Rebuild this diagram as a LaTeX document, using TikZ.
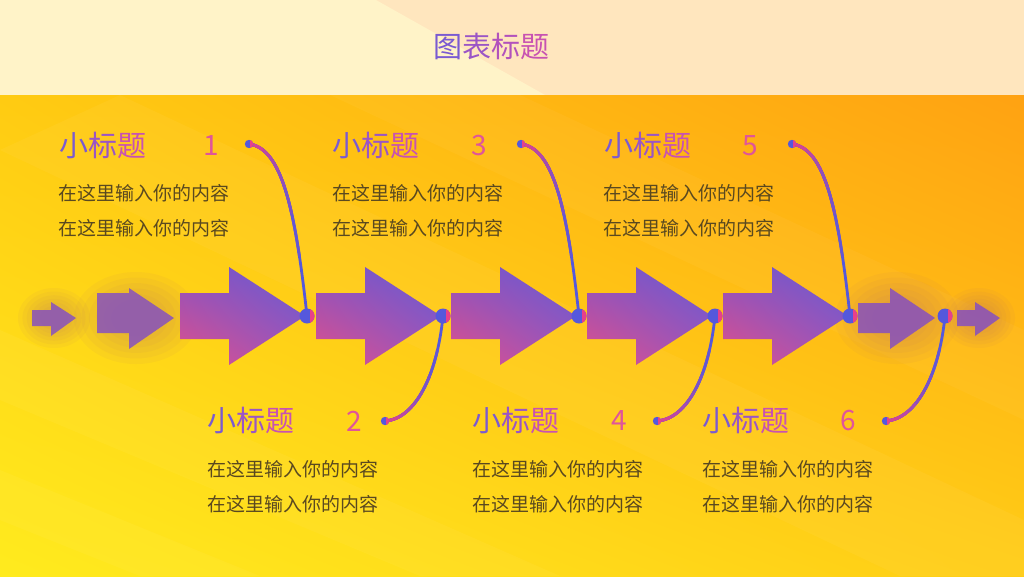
\documentclass[tikz,border=0pt]{standalone}
\usepackage{fontspec}
\setmainfont{Noto Sans CJK SC}
\usetikzlibrary{fadings,shadings,calc}
\definecolor{topL}{HTML}{FFF3C8}
\definecolor{topR}{HTML}{FFE6BE}
\definecolor{gA}{HTML}{7A5AD2}
\definecolor{gB}{HTML}{9A55C6}
\definecolor{gC}{HTML}{B252BC}
\definecolor{gD}{HTML}{C852B2}
\definecolor{numc}{HTML}{E0559A}
\definecolor{bodyc}{HTML}{5A4920}
\definecolor{dotblue}{HTML}{5558DC}
\definecolor{dotpink}{HTML}{E8408A}
\definecolor{glowc}{HTML}{B06A70}
\definecolor{fadec}{HTML}{7E48CC}
\definecolor{arUL}{HTML}{8A52C0}
\definecolor{arUR}{HTML}{655CD4}
\definecolor{arLL}{HTML}{E2508A}
\definecolor{arLR}{HTML}{A053B8}
\definecolor{bgUL}{HTML}{FFCB12}
\definecolor{bgUR}{HTML}{FFA212}
\definecolor{bgLL}{HTML}{FFEB1E}
\definecolor{bgLR}{HTML}{FFCD16}
\tikzset{
  subtitle/.style={anchor=west,font=\fontsize{29}{32}\selectfont,inner sep=0pt},
  numlabel/.style={anchor=center,font=\fontsize{28}{30}\selectfont,text=numc,inner sep=0pt},
  bodytext/.style={anchor=west,font=\fontsize{19}{21}\selectfont,text=bodyc,inner sep=0pt},
  connector/.style={line width=2.8pt,line cap=round},
  arrowshade/.style={upper left=arUL,upper right=arUR,lower left=arLL,lower right=arLR},
  fadearrow/.style={fill=fadec,fill opacity=0.78},
}
\newcommand\sub{\textcolor{gA}{小}\textcolor{gB}{标}\textcolor{gD}{题}}
\newcommand\bigarr[1]{%
  \shade[arrowshade] (#1,293) -- (#1+49,293) -- (#1+49,267) -- (#1+125,316)
     -- (#1+49,365) -- (#1+49,339) -- (#1,339) -- cycle;}
\newcommand\jdot[2]{%
  \begin{scope}
    \clip (#1) circle (#2);
    \fill[dotblue] ($(#1)+(-10,-10)$) rectangle ($(#1)+(10,10)$);
    \fill[dotpink] ($(#1)+(0.35*#2,-10)$) rectangle ($(#1)+(10,10)$);
  \end{scope}}
% gradient curve: #1 = pink end, #2,#3 controls, #4 = blue end
\newcommand\gcurve[4]{%
  \foreach \t/\p in {1/0,0.8/10,0.62/25,0.48/40,0.36/55,0.25/70,0.15/85}{%
    \path ($(#1)!\t!(#2)$) coordinate (qA) ($(#2)!\t!(#3)$) coordinate (qB) ($(#3)!\t!(#4)$) coordinate (qC);
    \path ($(qA)!\t!(qB)$) coordinate (qD) ($(qB)!\t!(qC)$) coordinate (qE);
    \path ($(qD)!\t!(qE)$) coordinate (qF);
    \draw[connector,draw=dotpink!\p!dotblue] (#1) .. controls (qA) and (qD) .. (qF);
  }}
\newcommand\glow[3]{% center, rx, ry
  \foreach \k in {1,0.88,0.76,0.64,0.52,0.4}{%
    \fill[glowc,opacity=0.06] (#1) ellipse ({#2*\k} and {#3*\k});}}
\begin{document}
\begin{tikzpicture}[x=1pt,y=-1pt]
\useasboundingbox (0,0) rectangle (1024,576);
% background
\fill[topR] (0,0) rectangle (1024,95);
\fill[topL] (0,0) -- (376,0) -- (545,95) -- (0,95) -- cycle;
\shade[upper left=bgUL,upper right=bgUR,lower left=bgLL,lower right=bgLR] (0,95) rectangle (1024,576);
\begin{scope}
\clip (0,95) rectangle (1024,576);
\fill[white,opacity=0.04] (0,150) -- (120,95) -- (1024,520) -- (1024,576) -- (900,576) -- cycle;
\fill[white,opacity=0.04] (0,330) -- (0,400) -- (420,576) -- (560,576) -- cycle;
\fill[white,opacity=0.035] (330,95) -- (520,95) -- (1024,330) -- (1024,420) -- cycle;
\fill[white,opacity=0.04] (0,470) -- (0,520) -- (140,576) -- (260,576) -- cycle;
\end{scope}
% title
\node[font=\fontsize{29}{32}\selectfont,inner sep=0pt] (title) at (491,46) {\textcolor{gA}{图}\textcolor{gB}{表}\textcolor{gC}{标}\textcolor{gD}{题}};
% faded arrows with glow
\coordinate (g1) at (54,318);
\coordinate (g2) at (136,318);
\coordinate (g3) at (897,318);
\coordinate (g4) at (979,318);
\glow{g1}{36}{30}
\glow{g2}{62}{46}
\glow{g3}{62}{46}
\glow{g4}{36}{30}
\fill[fadearrow] (32,310) -- (51,310) -- (51,302) -- (76,318) -- (51,336) -- (51,326) -- (32,326) -- cycle;
\fill[fadearrow] (97,293) -- (129,293) -- (129,288) -- (174,318) -- (129,349) -- (129,333) -- (97,333) -- cycle;
\fill[fadearrow] (858,303) -- (890,303) -- (890,288) -- (935,318) -- (890,349) -- (890,333) -- (858,333) -- cycle;
\fill[fadearrow] (957,310) -- (975,310) -- (975,302) -- (1000,318) -- (975,336) -- (975,326) -- (957,326) -- cycle;
% big arrows
\bigarr{180}\bigarr{316}\bigarr{451}\bigarr{587}\bigarr{723}
% dots on arrow line
\coordinate (a1) at (307,316);
\coordinate (a2) at (443,316);
\coordinate (a3) at (579,316);
\coordinate (a4) at (715,316);
\coordinate (a5) at (850,316);
\coordinate (a6) at (945,316);
% label end points
\coordinate (e1) at (249,144);
\coordinate (e2) at (385,421);
\coordinate (e3) at (521,144);
\coordinate (e4) at (657,421);
\coordinate (e5) at (792,144);
\coordinate (e6) at (886,421);
% connector control points
\foreach \i in {1,3,5}{%
  \coordinate (p\i) at ($(e\i)+(32,4)$);
  \coordinate (q\i) at ($(a\i)+(-12,-110)$);}
\foreach \i in {2,4,6}{%
  \coordinate (p\i) at ($(e\i)+(30,-2)$);
  \coordinate (q\i) at ($(a\i)+(-6,60)$);}
% connectors
\foreach \i in {1,...,6}{\gcurve{e\i}{p\i}{q\i}{a\i}}
\foreach \p in {a1,a2,a3,a4,a5,a6}{\jdot{\p}{7.5}}
\foreach \p in {e1,e2,e3,e4,e5,e6}{\jdot{\p}{4.2}}
% labels top
\node[subtitle] (s1) at (59,145) {\sub};
\node[numlabel] (n1) at (211,146) {1};
\node[bodytext] (b1a) at (58,193) {在这里输入你的内容};
\node[bodytext] (b1b) at (58,228) {在这里输入你的内容};
\node[subtitle] (s3) at (332,145) {\sub};
\node[numlabel] (n3) at (479,146) {3};
\node[bodytext] (b3a) at (332,193) {在这里输入你的内容};
\node[bodytext] (b3b) at (332,228) {在这里输入你的内容};
\node[subtitle] (s5) at (604,145) {\sub};
\node[numlabel] (n5) at (750,146) {5};
\node[bodytext] (b5a) at (603,193) {在这里输入你的内容};
\node[bodytext] (b5b) at (603,228) {在这里输入你的内容};
% labels bottom
\node[subtitle] (s2) at (207,420) {\sub};
\node[numlabel] (n2) at (354,421) {2};
\node[bodytext] (b2a) at (207,469) {在这里输入你的内容};
\node[bodytext] (b2b) at (207,504) {在这里输入你的内容};
\node[subtitle] (s4) at (472,420) {\sub};
\node[numlabel] (n4) at (619,421) {4};
\node[bodytext] (b4a) at (472,469) {在这里输入你的内容};
\node[bodytext] (b4b) at (472,504) {在这里输入你的内容};
\node[subtitle] (s6) at (702,420) {\sub};
\node[numlabel] (n6) at (848,421) {6};
\node[bodytext] (b6a) at (702,469) {在这里输入你的内容};
\node[bodytext] (b6b) at (702,504) {在这里输入你的内容};
\end{tikzpicture}
\end{document}
